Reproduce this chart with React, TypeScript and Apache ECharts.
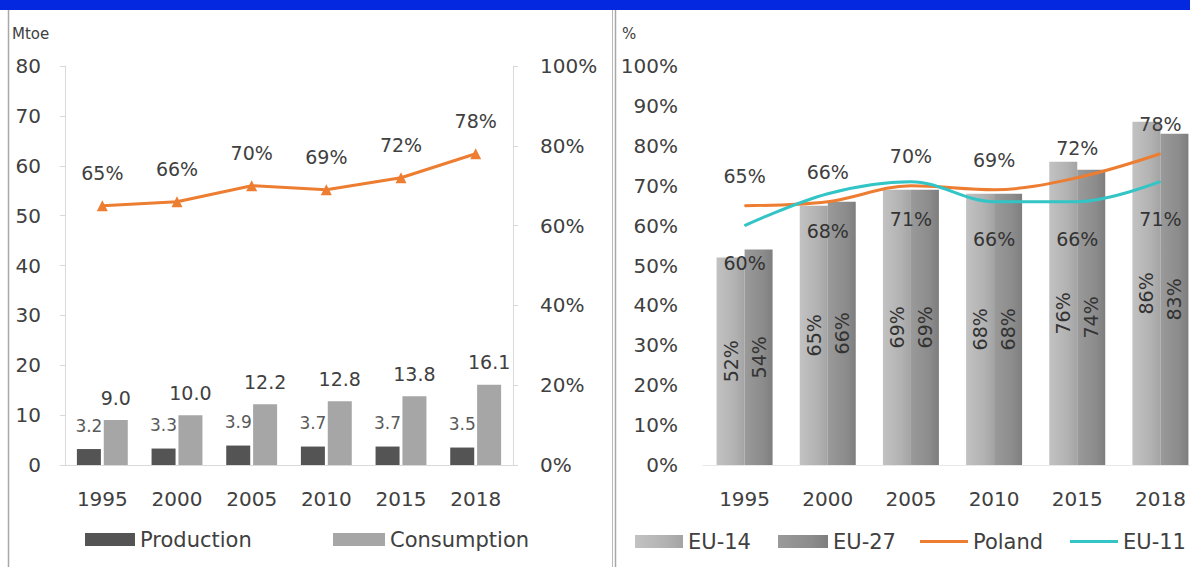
import React, { useEffect, useRef } from "react";
import * as echarts from "echarts";

// ---- data ----
const years = ["1995", "2000", "2005", "2010", "2015", "2018"];
const production = [3.2, 3.3, 3.9, 3.7, 3.7, 3.5];
const consumption = [9.0, 10.0, 12.2, 12.8, 13.8, 16.1];
const importDependency = [65, 66, 70, 69, 72, 78];
const eu14 = [52, 65, 69, 68, 76, 86];
const eu27 = [54, 66, 69, 68, 74, 83];
const poland = [65, 66, 70, 69, 72, 78];
const eu11 = [60, 68, 71, 66, 66, 71];
const mtoeTicks = { min: 0, max: 80, interval: 10 };
const shareTicksLeft = { min: 0, max: 100, interval: 20 };
const shareTicksRight = { min: 0, max: 100, interval: 10 };

const FONT = '"DejaVu Sans", Verdana, sans-serif';
const TXT = "#404040";

export default function App() {
  const ref = useRef<HTMLDivElement>(null);
  useEffect(() => {
    if (!ref.current) return;
    const chart = echarts.init(ref.current, undefined, { renderer: "svg" });
    const grad = (a: string, b: string, c: string) =>
      new echarts.graphic.LinearGradient(0, 0, 1, 0, [
        { offset: 0, color: a },
        { offset: 0.65, color: b },
        { offset: 1, color: c },
      ]);
    const legendBase = {
      top: 529,
      padding: 0,
      itemGap: 0,
      selectedMode: false,
      icon: "rect",
      textStyle: { fontSize: 21, color: TXT, fontFamily: FONT },
    };
    const option: any = {
      animation: false,
      backgroundColor: "#ffffff",
      textStyle: { fontFamily: FONT },
      graphic: [
        { type: "rect", shape: { x: 0, y: 0, width: 1230, height: 10 }, style: { fill: "#0328e0" } },
        { type: "line", shape: { x1: 8.5, y1: 10, x2: 8.5, y2: 567 }, style: { stroke: "#a8a8a8", lineWidth: 1.5 } },
        { type: "line", shape: { x1: 612.5, y1: 10, x2: 612.5, y2: 567 }, style: { stroke: "#b8b8b8", lineWidth: 1 } },
        { type: "line", shape: { x1: 615.5, y1: 10, x2: 615.5, y2: 567 }, style: { stroke: "#a8a8a8", lineWidth: 1.5 } },
        { type: "text", x: 12, y: 26, style: { text: "Mtoe", fontSize: 15, fill: TXT, fontFamily: FONT } },
        { type: "text", x: 622, y: 26, style: { text: "%", fontSize: 15, fill: TXT, fontFamily: FONT } },
      ],
      grid: [
        { left: 65, top: 66, width: 448, height: 399 },
        { left: 703, top: 66, width: 499, height: 399 },
      ],
      xAxis: [
        {
          type: "category",
          gridIndex: 0,
          data: years,
          axisLine: { lineStyle: { color: "#d9d9d9" } },
          axisTick: { show: false },
          axisLabel: { fontSize: 20, color: TXT, margin: 24 },
        },
        {
          type: "category",
          gridIndex: 1,
          data: years,
          axisLine: { lineStyle: { color: "#e8e8e8" } },
          axisTick: { show: false },
          axisLabel: { fontSize: 20, color: TXT, margin: 24 },
        },
      ],
      yAxis: [
        {
          type: "value",
          gridIndex: 0,
          ...mtoeTicks,
          axisLine: { show: true, lineStyle: { color: "#d9d9d9" } },
          axisTick: { show: true, length: 5, lineStyle: { color: "#d9d9d9" } },
          splitLine: { show: false },
          axisLabel: { fontSize: 20, color: TXT, margin: 24 },
        },
        {
          type: "value",
          gridIndex: 0,
          position: "right",
          ...shareTicksLeft,
          axisLine: { show: true, lineStyle: { color: "#d9d9d9" } },
          axisTick: { show: true, length: 5, lineStyle: { color: "#d9d9d9" } },
          splitLine: { show: false },
          axisLabel: { fontSize: 20, color: TXT, margin: 27, formatter: "{value}%" },
        },
        {
          type: "value",
          gridIndex: 1,
          ...shareTicksRight,
          axisLine: { show: false },
          axisTick: { show: false },
          splitLine: { show: false },
          axisLabel: { fontSize: 20, color: TXT, margin: 25, formatter: "{value}%" },
        },
      ],
      legend: [
        { ...legendBase, data: ["Production"], left: 85, itemWidth: 50, itemHeight: 13 },
        { ...legendBase, data: ["Consumption"], left: 333, itemWidth: 52, itemHeight: 13 },
        { ...legendBase, data: ["EU-14"], left: 635, top: 531, itemWidth: 48, itemHeight: 13 },
        { ...legendBase, data: ["EU-27"], left: 778, top: 531, itemWidth: 50, itemHeight: 13 },
        { ...legendBase, data: ["Poland"], left: 920, top: 531, itemWidth: 48, itemHeight: 3 },
        { ...legendBase, data: ["EU-11"], left: 1070, top: 531, itemWidth: 48, itemHeight: 3 },
      ],
      series: [
        {
          name: "Production",
          type: "bar",
          xAxisIndex: 0,
          yAxisIndex: 0,
          data: production,
          barWidth: 24,
          barGap: "12%",
          itemStyle: { color: "#545454" },
          label: {
            show: true,
            position: "top",
            distance: 15,
            fontSize: 17,
            color: "#5a5a5a",
            formatter: (p: any) => p.value.toFixed(1),
          },
        },
        {
          name: "Consumption",
          type: "bar",
          xAxisIndex: 0,
          yAxisIndex: 0,
          data: consumption,
          barWidth: 24,
          itemStyle: { color: "#a6a6a6" },
          label: {
            show: true,
            position: "top",
            distance: 13,
            fontSize: 19,
            color: TXT,
            formatter: (p: any) => p.value.toFixed(1),
          },
        },
        {
          name: "Import dependency",
          type: "line",
          xAxisIndex: 0,
          yAxisIndex: 1,
          data: importDependency,
          symbol: "triangle",
          symbolSize: 11,
          itemStyle: { color: "#ED7D31" },
          lineStyle: { color: "#ED7D31", width: 3 },
          label: { show: true, position: "top", distance: 18, fontSize: 19, color: TXT, formatter: "{c}%" },
        },
        {
          name: "EU-14",
          type: "bar",
          xAxisIndex: 1,
          yAxisIndex: 2,
          data: eu14,
          barWidth: 28,
          barGap: "0%",
          itemStyle: { color: grad("#c2c2c2", "#b2b2b2", "#a4a4a4") },
          label: { show: true, position: "inside", rotate: 90, fontSize: 19, color: "#333333", formatter: "{c}%" },
        },
        {
          name: "EU-27",
          type: "bar",
          xAxisIndex: 1,
          yAxisIndex: 2,
          data: eu27,
          barWidth: 28,
          itemStyle: { color: grad("#9a9a9a", "#8c8c8c", "#7e7e7e") },
          label: { show: true, position: "inside", rotate: 90, fontSize: 19, color: "#333333", formatter: "{c}%" },
        },
        {
          name: "Poland",
          type: "line",
          xAxisIndex: 1,
          yAxisIndex: 2,
          data: poland,
          smooth: 0.35,
          symbol: "circle",
          symbolSize: 1,
          itemStyle: { color: "#ED7D31" },
          lineStyle: { color: "#ED7D31", width: 3 },
          label: { show: true, position: "top", distance: 20, fontSize: 19, color: TXT, formatter: "{c}%" },
        },
        {
          name: "EU-11",
          type: "line",
          xAxisIndex: 1,
          yAxisIndex: 2,
          data: eu11,
          smooth: 0.35,
          symbol: "circle",
          symbolSize: 1,
          itemStyle: { color: "#33c4c6" },
          lineStyle: { color: "#33c4c6", width: 3 },
          label: { show: true, position: "bottom", distance: 27, fontSize: 19, color: "#333333", formatter: "{c}%" },
        },
      ],
    };
    chart.setOption(option);
    return () => chart.dispose();
  }, []);
  return (
    <div
      style={{
        position: "fixed",
        left: 0,
        top: 0,
        width: 1190,
        height: 567,
        overflow: "hidden",
        background: "#ffffff",
      }}
    >
      <div ref={ref} style={{ width: 1230, height: 567 }} />
    </div>
  );
}
